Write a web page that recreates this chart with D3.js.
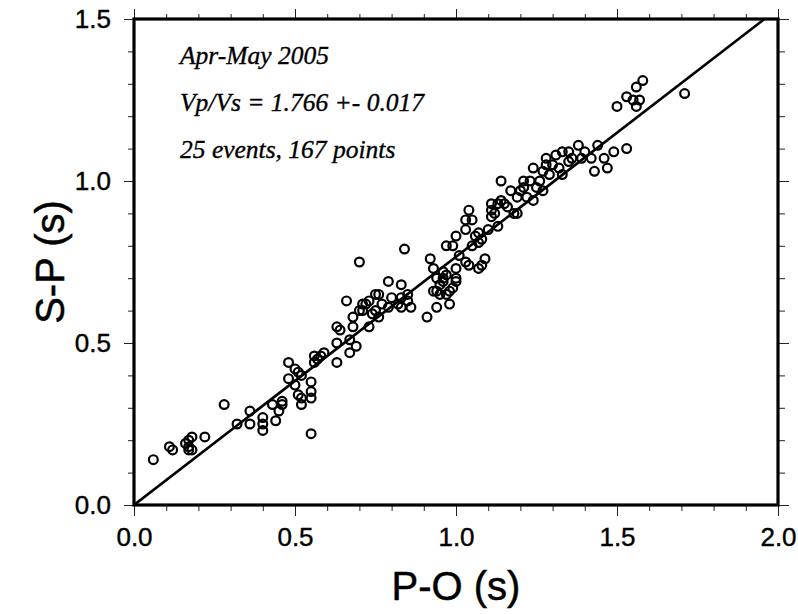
<!DOCTYPE html>
<html>
<head>
<meta charset="utf-8">
<script src="https://cdn.jsdelivr.net/npm/d3@7"></script>
<style>
  body { margin: 0; background: #fff; }
  .tick text { font-family: "Liberation Sans", Arial, sans-serif; font-size: 26px; fill: #000; stroke: #000; stroke-width: 0.4px; }
  .tick line { stroke: #222; }
</style>
</head>
<body>
<div id="chart"></div>
<script>
// P-O times (s)
const pO = [0.06,0.11,0.12,0.16,0.17,0.17,0.18,0.18,0.17,0.22,0.28,0.32,0.36,0.36,0.40,0.40,0.40,0.43,0.44,0.45,
  0.46,0.46,0.48,0.48,0.50,0.51,0.50,0.51,0.52,0.52,0.55,0.55,0.55,0.55,0.56,0.58,0.56,0.57,0.63,0.63,
  0.63,0.67,0.67,0.69,0.66,0.68,0.68,0.70,0.71,0.72,0.71,0.73,0.74,0.75,0.75,0.76,0.76,0.79,0.79,0.83,
  0.83,0.83,0.84,0.85,0.85,0.86,0.91,0.92,0.93,0.94,0.94,0.94,0.95,0.96,0.96,0.96,0.97,0.97,0.98,0.98,
  0.99,1.00,1.00,1.00,1.00,1.03,1.03,1.03,1.04,1.04,1.05,1.06,1.07,1.08,1.07,1.07,1.08,1.09,1.11,1.11,
  1.11,1.13,1.13,1.14,1.14,1.15,1.17,1.18,1.19,1.20,1.21,1.21,1.23,1.24,1.24,1.25,1.27,1.27,1.28,1.28,
  1.30,1.31,1.33,1.35,1.33,1.35,1.38,1.39,1.42,1.43,1.44,1.46,1.47,1.49,1.53,1.50,1.53,1.55,1.57,1.56,
  1.56,1.58,1.71,0.52,0.59,0.64,0.70,0.73,0.77,0.80,0.82,0.93,0.95,0.97,0.99,1.01,1.05,1.10,1.12,1.16,
  1.19,1.22,1.26,1.29,1.32,1.36,1.40];
// S-P times (s)
const sP = [0.14,0.18,0.17,0.19,0.20,0.17,0.17,0.21,0.18,0.21,0.31,0.25,0.29,0.25,0.27,0.25,0.23,0.31,0.26,0.29,
  0.32,0.31,0.44,0.39,0.42,0.41,0.37,0.34,0.33,0.31,0.38,0.35,0.33,0.22,0.44,0.46,0.46,0.45,0.50,0.55,
  0.44,0.47,0.51,0.49,0.63,0.58,0.55,0.75,0.62,0.62,0.60,0.55,0.59,0.60,0.65,0.65,0.58,0.69,0.61,0.64,
  0.68,0.61,0.79,0.65,0.63,0.61,0.58,0.76,0.73,0.61,0.70,0.66,0.65,0.70,0.69,0.72,0.80,0.65,0.62,0.66,
  0.80,0.83,0.73,0.70,0.69,0.85,0.88,0.75,0.74,0.91,0.88,0.83,0.84,0.82,0.81,0.73,0.74,0.76,0.93,0.91,
  0.89,0.93,0.86,0.94,1.00,0.93,0.97,0.90,0.90,0.97,1.00,0.98,1.00,0.94,1.04,0.98,0.97,1.03,1.05,1.07,
  1.05,1.08,1.09,1.06,1.02,1.09,1.11,1.07,1.07,1.03,1.11,1.07,1.04,1.09,1.10,1.23,1.26,1.25,1.25,1.23,
  1.29,1.31,1.27,0.40,0.47,0.54,0.60,0.63,0.62,0.64,0.62,0.66,0.68,0.71,0.67,0.77,0.80,0.85,0.90,0.92,
  0.95,0.95,1.00,1.02,1.04,1.07,1.09];

const vpvs = 1.766;
const xMajor = [0, 0.5, 1.0, 1.5, 2.0];
const yMajor = [0, 0.5, 1.0, 1.5];
const notes = ['Apr-May 2005', 'Vp/Vs = 1.766 +- 0.017', '25 events, 167 points'];

const data = pO.map((x, i) => ({ x: x, y: sP[i] }));

const width = 798, height = 614;
const pLeft = 134, pRight = 778, pTop = 19, pBottom = 505;

const xScale = d3.scaleLinear().domain([0, 2]).range([pLeft, pRight]);
const yScale = d3.scaleLinear().domain([0, 1.5]).range([pBottom, pTop]);
const minor = d3.range(0, 21).map(i => i / 10);
const fmt = d3.format('.1f');

const svg = d3.select('#chart').append('svg')
  .attr('width', width).attr('height', height);

// minor ticks on all four sides
svg.append('g').attr('transform', `translate(0,${pBottom})`)
  .call(d3.axisBottom(xScale).tickValues(minor).tickSize(6).tickFormat(''));
svg.append('g').attr('transform', `translate(0,${pTop})`)
  .call(d3.axisTop(xScale).tickValues(minor).tickSize(5).tickFormat(''));
svg.append('g').attr('transform', `translate(${pLeft},0)`)
  .call(d3.axisLeft(yScale).tickValues(minor.filter(v => v <= 1.5)).tickSize(6).tickFormat(''));
svg.append('g').attr('transform', `translate(${pRight},0)`)
  .call(d3.axisRight(yScale).tickValues(minor.filter(v => v <= 1.5)).tickSize(7).tickFormat(''));

// major ticks with labels
svg.append('g').attr('transform', `translate(0,${pBottom})`)
  .call(d3.axisBottom(xScale).tickValues(xMajor).tickSize(11).tickPadding(12).tickFormat(fmt));
svg.append('g').attr('transform', `translate(0,${pTop})`)
  .call(d3.axisTop(xScale).tickValues(xMajor).tickSize(10).tickFormat(''));
svg.append('g').attr('transform', `translate(${pLeft},0)`)
  .call(d3.axisLeft(yScale).tickValues(yMajor).tickSize(10).tickPadding(13).tickFormat(fmt));
svg.append('g').attr('transform', `translate(${pRight},0)`)
  .call(d3.axisRight(yScale).tickValues(yMajor).tickSize(11).tickFormat(''));

svg.selectAll('.domain').remove();
svg.selectAll('.tick text').attr('font-family', null).attr('font-size', null);

// fit line through origin, clipped to frame
svg.append('clipPath').attr('id', 'clip')
  .append('rect').attr('x', pLeft).attr('y', pTop)
  .attr('width', pRight - pLeft).attr('height', pBottom - pTop);

svg.append('line')
  .attr('clip-path', 'url(#clip)')
  .attr('x1', xScale(0)).attr('y1', yScale(0))
  .attr('x2', xScale(2)).attr('y2', yScale(2 * (vpvs - 1)))
  .style('stroke', '#000').style('stroke-width', 2.6);

svg.append('g').selectAll('circle')
  .data(data).enter()
  .append('circle')
  .attr('cx', d => xScale(d.x))
  .attr('cy', d => yScale(d.y))
  .attr('r', 4.4)
  .style('fill', 'none')
  .style('stroke', '#000')
  .style('stroke-width', 2.2);

// frame
svg.append('rect')
  .attr('x', pLeft).attr('y', pTop)
  .attr('width', pRight - pLeft).attr('height', pBottom - pTop)
  .style('fill', 'none').style('stroke', '#000').style('stroke-width', 3.2);

svg.append('g').selectAll('text')
  .data(notes).enter()
  .append('text')
  .attr('x', 180)
  .attr('y', (d, i) => 64 + i * 47)
  .style('font-family', '"Liberation Serif", "Times New Roman", serif')
  .style('font-style', 'italic')
  .style('font-size', '25.5px')
  .style('stroke', '#000')
  .style('stroke-width', 0.35)
  .text(d => d);

svg.append('text')
  .attr('x', (pLeft + pRight) / 2).attr('y', 600)
  .style('text-anchor', 'middle')
  .style('font-family', '"Liberation Sans", Arial, sans-serif')
  .style('font-size', '40px')
  .style('stroke', '#000')
  .style('stroke-width', 0.5)
  .text('P-O (s)');

svg.append('text')
  .attr('transform', `translate(64,${(pTop + pBottom) / 2}) rotate(-90)`)
  .style('text-anchor', 'middle')
  .style('font-family', '"Liberation Sans", Arial, sans-serif')
  .style('font-size', '40px')
  .style('stroke', '#000')
  .style('stroke-width', 0.5)
  .text('S-P (s)');
</script>
</body>
</html>
